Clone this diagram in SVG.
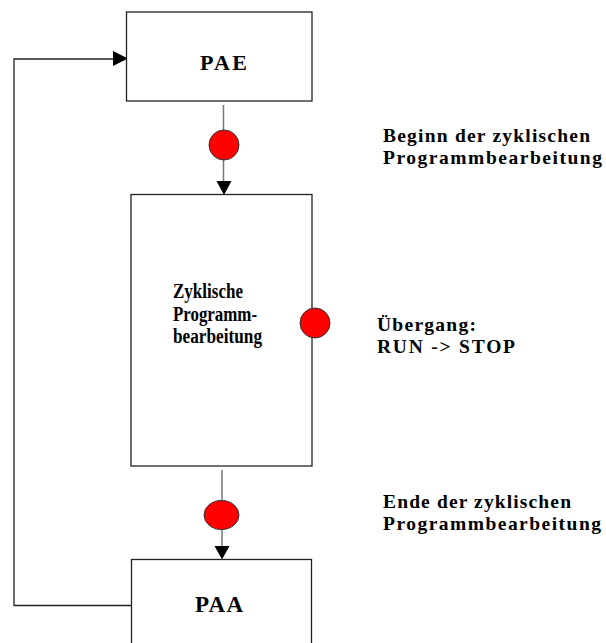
<svg xmlns="http://www.w3.org/2000/svg" width="606" height="643" viewBox="0 0 606 643">
<style>
.box{fill:#fff;stroke:#222;stroke-width:1.3}
.ln{fill:none;stroke:#777;stroke-width:1.5}
.loop{fill:none;stroke:#222;stroke-width:1.3}
.dot{fill:#f00;stroke:#333;stroke-width:1}
.hd{fill:#000}
.t{font-family:"Liberation Serif","Times New Roman",serif;font-weight:bold;fill:#000}
.lb{font-size:19.5px}
</style>
<rect width="606" height="643" fill="#fff"/>
<g id="connectors">
<path class="loop" d="M131,605.5 H14 V59 H114"/>
<polygon class="hd" points="113,51 128,58.5 113,66"/>
<line class="ln" x1="223.5" y1="105" x2="223.5" y2="182"/>
<polygon class="hd" points="216.5,181 231.5,181 224,195"/>
<line class="ln" x1="222" y1="470" x2="222" y2="547"/>
<polygon class="hd" points="214.5,546 229.5,546 222,559.5"/>
</g>
<g id="PAE">
<rect class="box" x="126.5" y="12" width="185.5" height="89"/>
<text class="t" x="200" y="69.5" font-size="22" textLength="47" lengthAdjust="spacing">PAE</text>
</g>
<g id="zyklisch">
<rect class="box" x="131" y="194.5" width="181" height="271.5"/>
<text class="t" font-size="20" x="173" y="298" textLength="70" lengthAdjust="spacingAndGlyphs">Zyklische</text>
<text class="t" font-size="20" x="173" y="321" textLength="84" lengthAdjust="spacingAndGlyphs">Programm-</text>
<text class="t" font-size="20" x="173" y="343" textLength="89" lengthAdjust="spacingAndGlyphs">bearbeitung</text>
</g>
<g id="PAA">
<rect class="box" x="131.5" y="559.5" width="180" height="100"/>
<text class="t" x="195" y="612" font-size="23" textLength="48" lengthAdjust="spacing">PAA</text>
</g>
<g id="dot-begin"><circle class="dot" cx="224" cy="145" r="15"/></g>
<g id="dot-stop"><circle class="dot" cx="315" cy="323" r="15"/></g>
<g id="dot-end"><ellipse class="dot" cx="221.5" cy="515" rx="17.5" ry="14.5"/></g>
<g id="label-begin">
<text class="t lb" x="383" y="142" textLength="207" lengthAdjust="spacing">Beginn der zyklischen</text>
<text class="t lb" x="383" y="164" textLength="219" lengthAdjust="spacing">Programmbearbeitung</text>
</g>
<g id="label-stop">
<text class="t lb" x="377" y="331" textLength="99" lengthAdjust="spacing">Übergang:</text>
<text class="t lb" x="377" y="353" textLength="138" lengthAdjust="spacing">RUN -&gt; STOP</text>
</g>
<g id="label-end">
<text class="t lb" x="383" y="508" textLength="188" lengthAdjust="spacing">Ende der zyklischen</text>
<text class="t lb" x="383" y="530" textLength="218" lengthAdjust="spacing">Programmbearbeitung</text>
</g>
</svg>
